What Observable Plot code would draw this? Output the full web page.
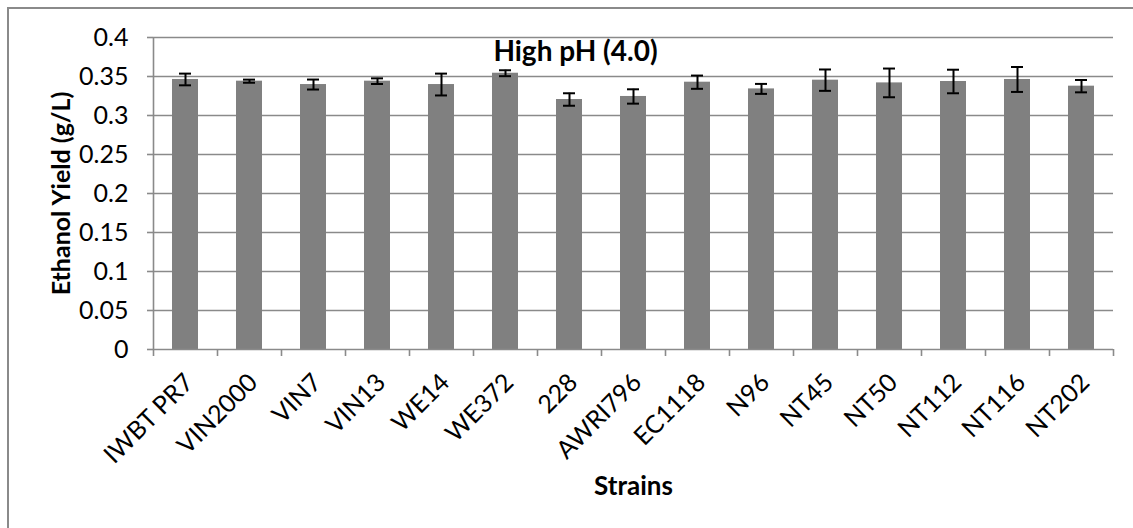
<!DOCTYPE html>
<html>
<head>
<meta charset="utf-8">
<script src="https://cdn.jsdelivr.net/npm/d3@7"></script>
<script src="https://cdn.jsdelivr.net/npm/@observablehq/plot@0.6"></script>
<style>
  html, body { margin: 0; padding: 0; background: #fff; }
  #wrap { position: relative; width: 1133px; height: 528px; overflow: hidden; background: #fff; }
  #border { position: absolute; left: 7px; top: 7px; width: 1200px; height: 600px; border: 2px solid #8a8a8a; box-sizing: border-box; }
  #chart { position: absolute; left: 0; top: 0; }
  #chart svg { font-family: Lato, "Open Sans", sans-serif; }
</style>
</head>
<body>
<div id="wrap"><div id="border"></div><div id="chart"></div></div>
<script>
const title = "High pH (4.0)";
const xTitle = "Strains";
const yTitle = "Ethanol Yield (g/L)";
const strains = ["IWBT PR7","VIN2000","VIN7","VIN13","WE14","WE372","228","AWRI796","EC1118","N96","NT45","NT50","NT112","NT116","NT202"];
const yields  = [0.3462,0.344,0.3397,0.344,0.3397,0.3542,0.3205,0.3244,0.3427,0.3341,0.3453,0.3418,0.3436,0.3462,0.3376];
const errors  = [0.0075,0.002,0.0064,0.0036,0.014,0.0038,0.008,0.0092,0.0085,0.0064,0.0137,0.0184,0.0151,0.016,0.0079];
const yTicks  = [0,0.05,0.1,0.15,0.2,0.25,0.3,0.35,0.4];

const data = strains.map((s, i) => ({strain: s, y: yields[i], e: errors[i]}));
const gray = "#8a8a8a";
const half = 32;

const chart = Plot.plot({
  width: 1133,
  height: 528,
  marginLeft: 153,
  marginRight: 20,
  marginTop: 37,
  marginBottom: 179,
  style: {background: "transparent", fontFamily: "Lato, sans-serif"},
  x: {domain: strains, type: "band", paddingInner: 0.6, paddingOuter: 0.3, axis: null},
  y: {domain: [0, 0.4], axis: null},
  marks: [
    Plot.ruleY(yTicks.filter(d => d > 0), {stroke: gray, strokeWidth: 1.6}),
    Plot.barY(data, {x: "strain", y: "y", fill: "#808080"}),
    Plot.ruleX(data, {x: "strain", y1: d => d.y - d.e, y2: d => d.y + d.e, stroke: "#000", strokeWidth: 2}),
    Plot.tickY(data, {x: "strain", y: d => d.y + d.e, stroke: "#000", strokeWidth: 2, insetLeft: 7, insetRight: 7}),
    Plot.tickY(data, {x: "strain", y: d => d.y - d.e, stroke: "#000", strokeWidth: 2, insetLeft: 7, insetRight: 7}),
    // y axis
    Plot.axisY({ticks: yTicks, label: null, tickSize: 6, tickPadding: 19, tickFormat: d => String(d), fontSize: 25, stroke: gray, strokeWidth: 1.6, color: "#000"}),
    Plot.ruleX([strains[0]], {dx: -half, y1: 0, y2: 0.4, stroke: gray, strokeWidth: 1.6}),
    // x axis
    Plot.ruleY([0], {stroke: gray, strokeWidth: 1.6}),
    Plot.ruleX(strains, {x: d => d, dx: -half, y1: 0, y2: 0, insetBottom: -7, stroke: gray, strokeWidth: 1.6}),
    Plot.ruleX([strains[strains.length - 1]], {dx: half, y1: 0, y2: 0, insetBottom: -7, stroke: gray, strokeWidth: 1.6}),
    Plot.text(strains, {x: d => d, frameAnchor: "bottom", text: d => d, rotate: -45, textAnchor: "end", lineAnchor: "top", dx: -3, dy: 22, fontSize: 25, fill: "#000"}),
    // titles
    Plot.text([xTitle], {frameAnchor: "bottom", textAnchor: "middle", dy: 145, fontSize: 26, fontWeight: "bold", fill: "#000"}),
    Plot.text([yTitle], {frameAnchor: "left", textAnchor: "middle", rotate: -90, dx: -92, fontSize: 25, fontWeight: "bold", fill: "#000"}),
    Plot.text([title], {frameAnchor: "top", textAnchor: "middle", dx: -58, dy: 4, fontSize: 28, fontWeight: "bold", fill: "#000"})
  ]
});
document.getElementById("chart").appendChild(chart);
</script>
</body>
</html>
